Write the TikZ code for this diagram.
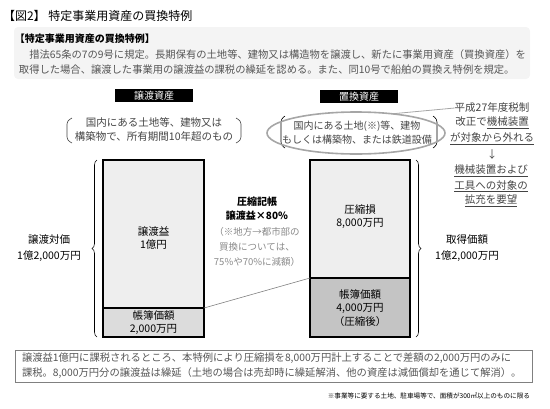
\documentclass[tikz,border=0pt]{standalone}
\usepackage{fontspec}
\setmainfont{Noto Sans CJK JP}
\usetikzlibrary{decorations.pathreplacing,shapes.geometric}
\definecolor{bodygray}{HTML}{555555}
\definecolor{notegray}{HTML}{444444}
\definecolor{lightfill}{HTML}{EEEEEE}
\definecolor{midfill}{HTML}{DCDCDC}
\definecolor{darkfill}{HTML}{C4C4C4}
\definecolor{panelfill}{HTML}{F4F4F4}
\definecolor{smallgray}{HTML}{8A8A8A}
\tikzset{
  every node/.style={inner sep=0pt, outer sep=0pt},
  fs/.style={font=\fontsize{#1}{#1}\selectfont},
  blacklabel/.style={fill=black, text=white, minimum width=78pt, minimum height=13pt, fs=10},
  boxpart/.style={draw=black, line width=1.1pt, anchor=north west},
  bracetext/.style={align=center, fs=10.5, text=black},
  boxtext/.style={align=center, fs=10.5, text=black},
  notetext/.style={fs=10.5, text=notegray},
  bodytext/.style={anchor=west, fs=10.3, text=bodygray},
  bigbrace/.style={decorate, decoration={brace, amplitude=5pt}, line width=0.6pt},
  paren/.style={line width=0.6pt, rounded corners=3pt},
}
\begin{document}
\begin{tikzpicture}[x=1pt,y=-1pt]
\useasboundingbox (0,0) rectangle (550,408);
% title
\node[anchor=west, fs=12] (title) at (3,16) {【図2】 特定事業用資産の買換特例};
% panel
\fill[panelfill, rounded corners=4pt] (14,27) rectangle (530,79);
\node[anchor=west, fs=10.2, font=\bfseries] (ptitle) at (15,38.5) {【特定事業用資産の買換特例】};
\node[bodytext] (pl1) at (19,54.5) {\hspace{1em}措法65条の7の9号に規定。長期保有の土地等、建物又は構造物を譲渡し、新たに事業用資産（買換資産）を};
\node[bodytext] (pl2) at (19,70) {取得した場合、譲渡した事業用の譲渡益の課税の繰延を認める。また、同10号で船舶の買換え特例を規定。};
% labels
\node[blacklabel] (jouto) at (154,95.5) {譲渡資産};
\node[blacklabel] (kaikae) at (359,96.5) {置換資産};
% left bracket text
\node[bracetext, text=notegray, fs=10.5] (ltext) at (154,129.5) {国内にある土地等、建物又は\\[3pt]構築物で、所有期間10年超のもの};
\draw[paren, notegray] (72,118) -- (67,121) -- (67,140) -- (72,143);
\draw[paren, notegray] (236,118) -- (241,121) -- (241,140) -- (236,143);
% right ellipse text
\draw[paren, black] (285,116) -- (281,119) -- (281,145) -- (285,148);
\draw[paren, black] (433,116) -- (437,119) -- (437,145) -- (433,148);
\node[bracetext, text=notegray, fs=10] (rtext) at (357,132.5) {国内にある土地(※)等、建物\\[3pt]もしくは構築物、または鉄道設備};
\node[draw=gray!70, line width=1.6pt, ellipse, minimum width=178pt, minimum height=42pt] (ell) at (356,133) {};
% note on right
\node[notetext] (n1) at (492,108) {平成27年度税制};
\node[notetext] (n2) at (492,123) {改正で\underline{機械装置}};
\node[notetext] (n3) at (492,138.5) {\underline{が対象から外れる}};
\node[notetext] (n4) at (492,155) {↓};
\node[notetext] (n5) at (491,171) {\underline{機械装置および}};
\node[notetext] (n6) at (491,186) {\underline{工具への対象の}};
\node[notetext] (n7) at (491,201) {\underline{拡充を要望}};
\draw[gray!70, line width=0.8pt] (ell.28) -- (n1.west);
% left box
\node[boxpart, fill=lightfill, minimum width=101pt, minimum height=148pt] (lt) at (103,160) {};
\node[boxpart, fill=midfill, minimum width=101pt, minimum height=29pt] (lb) at (103,308) {};
\node[boxtext] (ltt) at (153.5,238) {譲渡益\\[2pt]1億円};
\node[boxtext] (lbt) at (153.5,322.5) {帳簿価額\\[2pt]2,000万円};
% right box
\node[boxpart, fill=lightfill, minimum width=100pt, minimum height=118pt] (rt) at (310,160) {};
\node[boxpart, fill=darkfill, minimum width=100pt, minimum height=59pt] (rb) at (310,278) {};
\node[boxtext] (rtt) at (360,216.5) {圧縮損\\[2pt]8,000万円};
\node[boxtext] (rbt) at (360,308) {帳簿価額\\[2pt]4,000万円\\[2pt]（圧縮後）};
% diagonal
\draw[gray, line width=0.6pt] (lb.north east) -- (rb.north west);
% braces
\draw[bigbrace] (97,337) -- (97,160);
\draw[bigbrace] (416,160) -- (416,337);
\node[bracetext] (ltot) at (49,248) {譲渡対価\\[5pt]1億2,000万円};
\node[bracetext] (rtot) at (467,248) {取得価額\\[5pt]1億2,000万円};
% middle
\node[fs=10.5, font=\bfseries] (m1) at (257,202) {圧縮記帳};
\node[fs=10.5, font=\bfseries] (m2) at (257,216) {譲渡益×80\%};
\node[fs=9.5, text=smallgray] (m3) at (257,232) {（※地方→都市部の};
\node[fs=9.5, text=smallgray] (m4) at (257,247) {買換については、};
\node[fs=9.5, text=smallgray] (m5) at (257,262) {75\%や70\%に減額）};
% bottom box
\draw[gray, line width=0.7pt] (15,350) rectangle (532,382);
\node[bodytext] (b1) at (22,358.5) {譲渡益1億円に課税されるところ、本特例により圧縮損を8,000万円計上することで差額の2,000万円のみに};
\node[bodytext] (b2) at (22,373.5) {課税。8,000万円分の譲渡益は繰延（土地の場合は売却時に繰延解消、他の資産は減価償却を通じて解消）。};
% footnote
\node[anchor=east, fs=6.6, text=black] (fn) at (530,395.5) {※事業等に要する土地、駐車場等で、面積が300㎡以上のものに限る};
\end{tikzpicture}
\end{document}
